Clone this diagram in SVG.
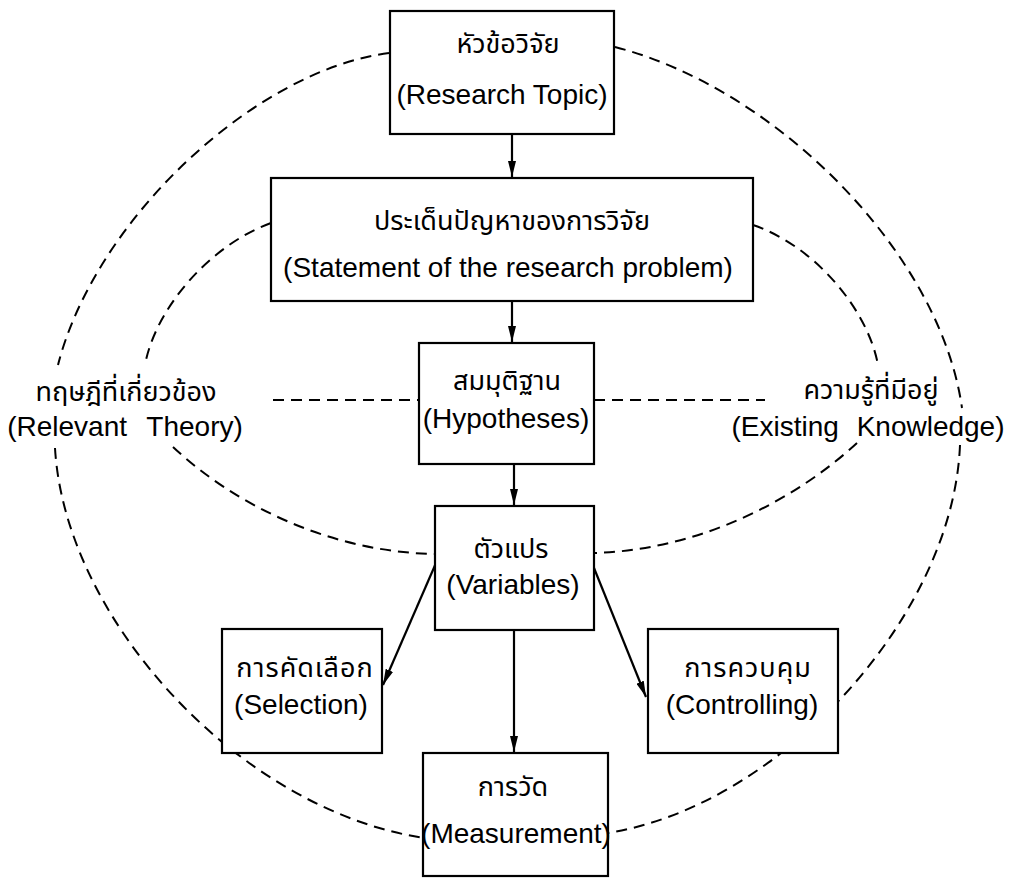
<svg xmlns="http://www.w3.org/2000/svg" width="1021" height="878" viewBox="0 0 1021 878">
  <style>
    .box{fill:#fff;stroke:#000;stroke-width:2.2}
    .dash{fill:none;stroke:#000;stroke-width:2;stroke-dasharray:11 7}
    .link{fill:none;stroke:#000;stroke-width:2.2}
    .en{font-family:"Liberation Sans",Arial,Helvetica,sans-serif;font-size:28px;text-anchor:middle;fill:#000}
    .th{font-family:"Noto Sans Thai","Tlwg Typist","Loma","Garuda","Norasi","DejaVu Sans",sans-serif;font-size:27px;text-anchor:middle;fill:#000}
  </style>
  <defs>
    <marker id="ah" viewBox="0 0 16 8" refX="16" refY="4" markerWidth="16" markerHeight="8" orient="auto" markerUnits="userSpaceOnUse">
      <path d="M0,0 L16,4 L0,8 z" fill="#000"/>
    </marker>
  </defs>

  <!-- dashed relation curves (drawn behind the boxes) -->
  <g id="relations">
    <path class="dash" d="M389,53 C255,70 95,220 58,365"/>
    <path class="dash" d="M55,448 C65,620 240,810 424,838"/>
    <path class="dash" d="M271,223 C208,246 155,310 145,365"/>
    <path class="dash" d="M173,447 C235,505 330,552 435,554"/>
    <path class="dash" d="M615,47 C775,88 940,252 962,408"/>
    <path class="dash" d="M960,445 C953,620 775,808 607,833"/>
    <path class="dash" d="M753,225 C815,246 868,310 878,365"/>
    <path class="dash" d="M857,443 C795,500 700,550 594,553"/>
    <path class="dash" d="M273,400 L419,400"/>
    <path class="dash" d="M594,400 L765,400"/>
  </g>

  <!-- flow arrows -->
  <g id="connectors">
    <path class="link" d="M512,134 L512,177" marker-end="url(#ah)"/>
    <path class="link" d="M512,301 L512,342" marker-end="url(#ah)"/>
    <path class="link" d="M514,464 L514,505" marker-end="url(#ah)"/>
    <path class="link" d="M514,630 L514,752" marker-end="url(#ah)"/>
    <path class="link" d="M436,563 L383,685" marker-end="url(#ah)"/>
    <path class="link" d="M594,568 L646,697" marker-end="url(#ah)"/>
  </g>

  <g id="topic">
    <rect class="box" x="390" y="11" width="224" height="123"/>
    <text class="th" x="508" y="53">หัวข้อวิจัย</text>
    <text class="en" x="502" y="104">(Research Topic)</text>
  </g>

  <g id="problem">
    <rect class="box" x="271" y="178" width="482" height="123"/>
    <text class="th" x="512" y="230">ประเด็นปัญหาของการวิจัย</text>
    <text class="en" x="508" y="277">(Statement of the research problem)</text>
  </g>

  <g id="hypotheses">
    <rect class="box" x="419" y="343" width="175" height="121"/>
    <text class="th" x="507" y="390">สมมุติฐาน</text>
    <text class="en" x="506" y="428">(Hypotheses)</text>
  </g>

  <g id="theory">
    <text class="th" x="126" y="401">ทฤษฎีที่เกี่ยวข้อง</text>
    <text class="en" x="125" y="436" style="word-spacing:12px">(Relevant Theory)</text>
  </g>

  <g id="knowledge">
    <text class="th" x="871" y="399">ความรู้ที่มีอยู่</text>
    <text class="en" x="868" y="436" style="word-spacing:10px">(Existing Knowledge)</text>
  </g>

  <g id="variables">
    <rect class="box" x="435" y="506" width="159" height="124"/>
    <text class="th" x="511" y="558">ตัวแปร</text>
    <text class="en" x="513" y="594">(Variables)</text>
  </g>

  <g id="selection">
    <rect class="box" x="222" y="629" width="160" height="124"/>
    <text class="th" x="305" y="677" style="letter-spacing:1px">การคัดเลือก</text>
    <text class="en" x="301" y="714">(Selection)</text>
  </g>

  <g id="controlling">
    <rect class="box" x="648" y="629" width="190" height="124"/>
    <text class="th" x="748" y="677" style="letter-spacing:1px">การควบคุม</text>
    <text class="en" x="742" y="714">(Controlling)</text>
  </g>

  <g id="measurement">
    <rect class="box" x="423" y="753" width="185" height="123"/>
    <text class="th" x="513" y="796">การวัด</text>
    <text class="en" x="516" y="843">(Measurement)</text>
  </g>
</svg>
